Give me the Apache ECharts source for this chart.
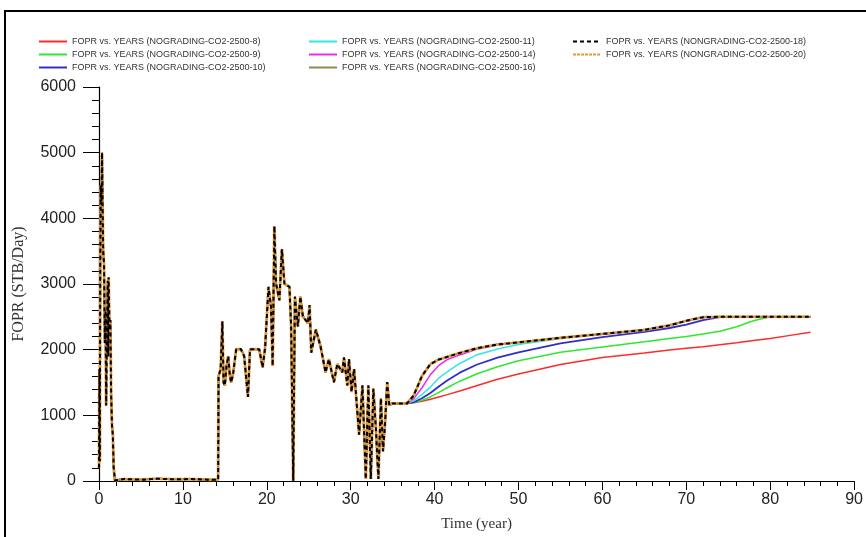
<!DOCTYPE html>
<html><head><meta charset="utf-8">
<script src="https://cdn.jsdelivr.net/npm/echarts@6/dist/echarts.min.js"></script>
<style>html,body{margin:0;padding:0;background:#fff}#c{width:866px;height:537px}</style>
</head><body><div id="c"></div><script>
// History (common to all cases)
const histYears = [0,0.05,0.1,0.15,0.22,0.3,0.36,0.42,0.5,0.6,0.7,0.78,0.85,0.95,1.05,1.1,1.15,1.25,1.35,1.45,1.55,1.65,1.75,1.9,
  3,5,7,9,11,13,14.2,
  14.25,14.5,14.7,14.85,15.0,15.2,15.4,15.6,15.75,16.0,16.35,16.9,17.3,17.75,18.0,19.1,19.5,19.8,20.2,20.5,20.7,20.9,21.1,21.5,21.8,22.1,22.7,22.9,23.15,23.35,23.7,24.0,24.3,24.9,25.1,25.3,25.85,26.4,27.0,27.4,28.0,28.4,29.0,29.2,29.6,29.8,30.1,30.4,31.0,31.4,31.8,32.1,32.4,32.7,33.0,33.3,33.6,33.85,34.1,34.35,34.6,34.95,36.0];
const histRate = [200,1700,300,3300,4500,4200,5000,4300,3500,3300,2100,2600,1150,2300,3050,1900,3100,2300,2450,1300,850,700,200,10,
  30,20,35,25,30,20,20,
  1600,1700,2430,1500,1455,1750,1900,1600,1500,1650,2005,2010,1905,1280,2005,2005,1730,2030,2955,2655,1755,3880,3005,2755,3530,3005,2955,2355,5,2805,2355,2805,2505,2405,2680,1955,2305,2055,1655,1855,1505,1780,1655,1880,1455,1855,1355,1705,705,1455,30,1455,30,1405,805,30,1255,455,885,1505,1155,1180,1180];
// Forecast
const fcYears = [36.7,37.5,38.5,39.5,40.5,41.5,43,45,47.5,50,55,60,65,68,70,72,74,76,78,80,82,84.8];
const rate8  = [1180,1190,1215,1245,1280,1315,1370,1450,1550,1630,1775,1880,1950,1995,2020,2045,2075,2105,2140,2170,2210,2265];
const rate9  = [1180,1195,1230,1280,1350,1420,1520,1630,1740,1830,1960,2040,2120,2170,2200,2240,2280,2350,2440,2500,2500,2500];
const rate10 = [1180,1200,1260,1340,1440,1530,1650,1770,1880,1960,2095,2190,2270,2330,2380,2450,2495,2500,2500,2500,2500,2500];
const rate11 = [1180,1220,1320,1430,1570,1660,1790,1920,2010,2080,2170,2240,2300,2370,2440,2495,2500,2500,2500,2500,2500,2500];
const rate14 = [1180,1250,1420,1620,1760,1850,1920,2005,2070,2110,2180,2240,2300,2370,2440,2495,2500,2500,2500,2500,2500,2500];
const rate16 = [1180,1300,1600,1780,1850,1890,1950,2020,2080,2110,2180,2240,2300,2370,2440,2495,2500,2500,2500,2500,2500,2500];
const rate18 = rate16;
const rate20 = rate16;
const names = ['FOPR vs. YEARS (NOGRADING-CO2-2500-8)','FOPR vs. YEARS (NOGRADING-CO2-2500-9)','FOPR vs. YEARS (NOGRADING-CO2-2500-10)',
  'FOPR vs. YEARS (NOGRADING-CO2-2500-11)','FOPR vs. YEARS (NOGRADING-CO2-2500-14)','FOPR vs. YEARS (NOGRADING-CO2-2500-16)',
  'FOPR vs. YEARS (NONGRADING-CO2-2500-18)','FOPR vs. YEARS (NONGRADING-CO2-2500-20)'];
const xTicks = [0,10,20,30,40,50,60,70,80,90];
const yTicks = [0,1000,2000,3000,4000,5000,6000];

function mk(fc){
  return histYears.map((t,i)=>[t,histRate[i]]).concat(fcYears.map((t,i)=>[t,fc[i]]));
}
const styles = [
  {c:'#ff2a2a',w:1.5,t:'solid',z:2},
  {c:'#2ee82e',w:1.5,t:'solid',z:2},
  {c:'#2f2fc8',w:1.8,t:'solid',z:2},
  {c:'#2ee8e8',w:1.5,t:'solid',z:2},
  {c:'#ee2aee',w:1.5,t:'solid',z:2},
  {c:'#8c8c4c',w:1.8,t:'solid',z:2},
  {c:'#000000',w:2,t:[4,3],z:5},
  {c:'#e89a3a',w:3,t:[3,1],z:4}
];
const fcs = [rate8,rate9,rate10,rate11,rate14,rate16,rate18,rate20];
const series = fcs.map((fc,i)=>({
  name:names[i], type:'line', data:mk(fc), symbol:'none', z:styles[i].z,
  lineStyle:{color:styles[i].c,width:styles[i].w,type:styles[i].t},
  itemStyle:{color:styles[i].c}, animation:false
}));
const legFont = {fontFamily:'Liberation Sans, Arial, sans-serif',fontSize:9,color:'#333'};
function leg(left,data){
  return {orient:'vertical',left:left,top:37,itemWidth:28,itemHeight:10,itemGap:4,
    data:data,textStyle:legFont,selectedMode:false,padding:0,
    itemStyle:{opacity:0}};
}
const tickFont = 'Liberation Sans, Arial, sans-serif';
const chart = echarts.init(document.getElementById('c'),null,{renderer:'canvas'});
chart.setOption({
  backgroundColor:'#fff',
  animation:false,
  graphic:[{type:'rect',silent:true,z:-1,shape:{x:5,y:11,width:900,height:600},style:{fill:'none',stroke:'#000',lineWidth:2}}],
  legend:[leg(38,names.slice(0,3)),leg(308,names.slice(3,6)),leg(572,names.slice(6,8))],
  grid:{left:99,right:9,top:87,bottom:50,containLabel:false},
  xAxis:{type:'value',min:xTicks[0],max:xTicks[xTicks.length-1],interval:10,
    name:'Time (year)',nameLocation:'middle',nameGap:36,
    nameTextStyle:{fontFamily:'Liberation Serif, Times New Roman, serif',fontSize:15,color:'#333'},
    axisLine:{lineStyle:{color:'#000',width:1.2}},
    axisTick:{length:9,lineStyle:{color:'#000'}},
    minorTick:{show:true,splitNumber:5,length:5,lineStyle:{color:'#000'}},
    splitLine:{show:false},
    axisLabel:{margin:11,fontFamily:tickFont,fontSize:16,color:'#222',formatter:v=>String(v)}},
  yAxis:{type:'value',min:yTicks[0],max:yTicks[yTicks.length-1],interval:1000,
    name:'FOPR (STB/Day)',nameLocation:'middle',nameGap:72,
    nameTextStyle:{fontFamily:'Liberation Serif, Times New Roman, serif',fontSize:16,color:'#333'},
    axisLine:{show:true,lineStyle:{color:'#000',width:1.2}},
    axisTick:{show:true,length:16,lineStyle:{color:'#000'}},
    minorTick:{show:true,splitNumber:5,length:7,lineStyle:{color:'#000'}},
    splitLine:{show:false},
    axisLabel:{margin:23,fontFamily:tickFont,fontSize:16,color:'#222',formatter:v=>String(v)}},
  series:series
});
</script></body></html>
